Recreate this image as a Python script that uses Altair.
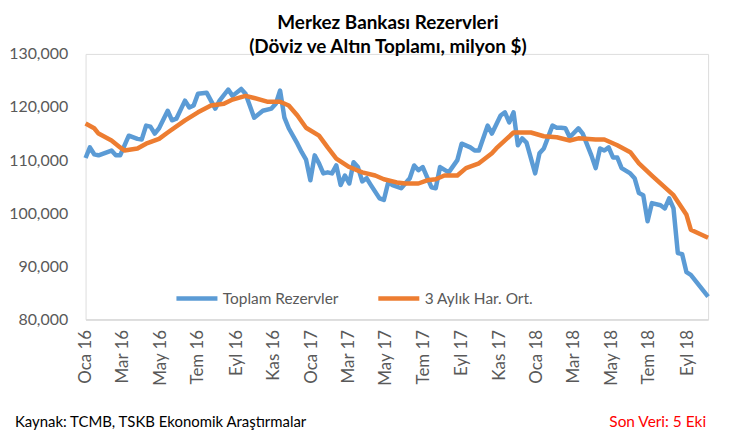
import altair as alt
import pandas as pd

# --- data ---
start_date = "2016-01-01"
end_date = "2018-10-05"

blue_weeks = [0, 1, 2, 3, 6, 7, 8, 10, 12, 13, 14, 15, 16, 17, 19, 20, 21, 23, 24, 25,
              26, 28, 30, 31, 33, 34, 36, 37, 39, 41, 43, 44, 45, 46, 47, 49, 50, 51, 52, 53,
              54, 55, 56, 57, 58, 59, 60, 61, 62, 63, 64, 65, 66, 68, 69, 70, 71, 73, 75, 76,
              77, 78, 80, 81, 82, 84, 86, 87, 89, 90, 91, 93, 94, 96, 97, 98, 99, 100, 101, 102,
              104, 105, 106, 108, 109, 110, 111, 112, 114, 115, 117, 118, 119, 120, 121, 122, 123, 124, 126, 127,
              128, 129, 130, 131, 133, 134, 135, 136, 137, 138, 139, 140, 144]
blue_values = [110400, 112400, 111100, 110900, 111800, 110900, 110900, 114600, 114000, 113900,
               116500, 116300, 115000, 116000, 119300, 117500, 117800, 121200, 119900, 120300,
               122500, 122700, 119700, 121200, 123300, 122100, 123400, 122500, 118000, 119300,
               119700, 120600, 123100, 118000, 116000, 113100, 111500, 110100, 106200, 110900,
               109400, 107500, 107700, 107500, 109000, 105300, 107100, 105600, 109600, 108700,
               106000, 106600, 105300, 102800, 102500, 105800, 105300, 104700, 106600, 109000,
               108100, 108700, 104900, 104700, 108700, 107700, 110000, 113100, 112400, 111800,
               111800, 116500, 115000, 118400, 119000, 117100, 119000, 112800, 114100, 113300,
               107500, 111300, 112200, 116500, 116100, 116100, 116000, 114300, 116000, 115000,
               110900, 108500, 112200, 111800, 112400, 110500, 110500, 108500, 107500, 106600,
               103800, 103400, 98500, 101900, 101500, 100900, 102800, 100900, 92500, 92300,
               88900, 88400, 84300]

orange_weeks = [0, 2, 3, 6, 8, 9, 12, 14, 17, 19, 23, 26, 29, 32, 34, 37, 39, 42, 45, 47,
                49, 51, 54, 56, 58, 61, 64, 67, 69, 72, 74, 77, 79, 81, 83, 86, 88, 91, 94, 95,
                99, 103, 106, 109, 112, 114, 118, 120, 123, 126, 128, 131, 136, 139, 140, 144]
orange_values = [116900, 116000, 115000, 113700, 112400, 111800, 112200, 113100, 114000, 115200,
                 117500, 119000, 120300, 120600, 121400, 122100, 121700, 121000, 121000, 120300,
                 118400, 116100, 114600, 112400, 110300, 108700, 107700, 107100, 106400, 105800,
                 105600, 105600, 106200, 106400, 107100, 107100, 108500, 109400, 111300, 112200,
                 115200, 115200, 114500, 114300, 113700, 114100, 113900, 113900, 112800, 111500,
                 109400, 107100, 103400, 99700, 96900, 95400]

series_names = ["Toplam Rezervler", "3 Aylık Har. Ort."]
series_colors = ["#5B9BD5", "#ED7D31"]
month_names = ["Oca", "Şub", "Mar", "Nis", "May", "Haz", "Tem", "Ağu", "Eyl", "Eki", "Kas", "Ara"]
y_ticks = [80000, 90000, 100000, 110000, 120000, 130000]
title_lines = ["Merkez Bankası Rezervleri", "(Döviz ve Altın Toplamı, milyon $)"]
source_text = "Kaynak: TCMB, TSKB Ekonomik Araştırmalar"
last_data_text = "Son Veri: 5 Eki"

# --- tables ---
t0 = pd.Timestamp(start_date)
blue_df = pd.DataFrame({
    "date": [t0 + pd.Timedelta(days=7 * w) for w in blue_weeks],
    "value": blue_values,
    "series": series_names[0],
})
orange_df = pd.DataFrame({
    "date": [t0 + pd.Timedelta(days=7 * w) for w in orange_weeks],
    "value": orange_values,
    "series": series_names[1],
})

tick_dates = [alt.DateTime(year=y, month=m, date=1)
              for y in (2016, 2017, 2018) for m in (1, 3, 5, 7, 9, 11)
              if not (y == 2018 and m == 11)]

month_arr = "[" + ",".join(f"'{m}'" for m in month_names) + "]"
label_expr = month_arr + "[month(datum.value)] + ' ' + timeFormat(datum.value, '%y')"

FONT = "Lato"
W, H = 626, 267

x_axis = alt.Axis(values=tick_dates, labelExpr=label_expr, labelAngle=-90,
                  labelFontSize=17, labelColor="#595959", labelFont=FONT,
                  labelPadding=10, labelOverlap=False, labelSeparation=0,
                  ticks=False, grid=False,
                  domainColor="#D9D9D9", domainWidth=1.5, title=None)
x_scale = alt.Scale(domain=[alt.DateTime(year=2016, month=1, date=1),
                            alt.DateTime(year=2018, month=10, date=5)], nice=False)
y_axis = alt.Axis(values=y_ticks, format=",d", labelFontSize=16, labelColor="#595959",
                  labelFont=FONT, labelPadding=18, ticks=False, grid=False, domain=False,
                  title=None)
y_scale = alt.Scale(domain=[80000, 130000], nice=False, zero=False)

color_enc = alt.Color(
    "series:N",
    scale=alt.Scale(domain=series_names, range=series_colors),
    legend=alt.Legend(orient="none", legendX=89, legendY=223, direction="horizontal",
                      symbolType="stroke", symbolSize=1700, symbolStrokeWidth=4.5,
                      labelFontSize=15.5, labelColor="#595959", labelFont=FONT,
                      columnPadding=30, labelOffset=3, title=None),
)


def line_layer(df):
    return alt.Chart(df).mark_line(strokeWidth=4.5, strokeJoin="round").encode(
        x=alt.X("date:T", scale=x_scale, axis=x_axis),
        y=alt.Y("value:Q", scale=y_scale, axis=y_axis),
        color=color_enc)


blue_line = line_layer(blue_df)
orange_line = line_layer(orange_df)

src = alt.Chart(pd.DataFrame({"t": [source_text]})).mark_text(
    align="left", baseline="middle", fontSize=15, font=FONT, color="#000000"
).encode(x=alt.value(-71), y=alt.value(370), text="t:N")
last = alt.Chart(pd.DataFrame({"t": [last_data_text]})).mark_text(
    align="right", baseline="middle", fontSize=15.5, font=FONT, color="#FF0000"
).encode(x=alt.value(624), y=alt.value(370), text="t:N")

chart = alt.layer(blue_line, orange_line, src, last).properties(
    width=W, height=H,
    title=alt.TitleParams(title_lines, anchor="middle", fontSize=19, font=FONT,
                          fontWeight="bold", color="#000000", offset=-11, lineHeight=24,
                          dx=-9),
    autosize=alt.AutoSizeParams(type="none"),
    padding={"left": 78, "top": 45, "right": 16, "bottom": 110},
).configure_view(stroke=None).configure(background="white").configure_axisX(
    labelOverlap=False)

chart.save("out.html", embed_options={"renderer": "svg", "actions": False})
